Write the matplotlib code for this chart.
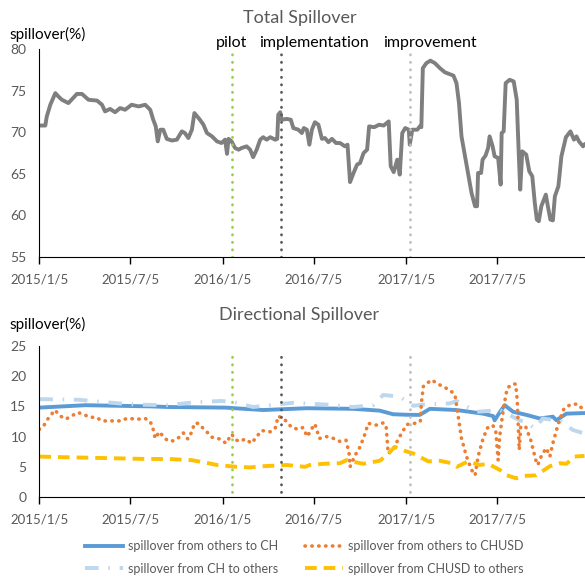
import matplotlib
matplotlib.use("Agg")
import matplotlib.pyplot as plt
import numpy as np
import pandas as pd

# ---- data (days counted from 2015/1/5) ----
start = pd.Timestamp("2015-01-05")

tot_days = [0, 12, 15, 22, 32, 38, 45, 58, 75, 85, 98, 115, 125, 131, 141, 151, 161, 171,
            184, 198, 211, 221, 227, 232, 236, 241, 247, 254, 264, 274, 284, 290, 297, 304,
            309, 320, 327, 334, 344, 354, 363, 370, 374, 377, 383, 390, 397, 403, 413, 420,
            426, 433, 440, 446, 453, 460, 470, 474, 476, 480, 483, 493, 501, 506, 516, 523,
            527, 533, 538, 543, 549, 556, 563, 569, 576, 583, 591, 599, 609, 614, 619, 626,
            633, 639, 646, 653, 657, 667, 677, 686, 696, 700, 706, 713, 718, 723, 729, 736,
            738, 743, 753, 758, 761, 764, 771, 779, 788, 798, 808, 825, 831, 836, 841, 848,
            854, 861, 868, 872, 874, 880, 883, 889, 894, 897, 903, 907, 914, 919, 921, 925,
            929, 937, 945, 951, 955, 958, 962, 970, 976, 982, 987, 991, 995, 1000, 1009,
            1013, 1018, 1023, 1027, 1034, 1040, 1049, 1058, 1065, 1070, 1075, 1083, 1086]
tot_vals = [70.8, 70.8, 71.9, 73.3, 74.7, 74.3, 73.9, 73.5, 74.6, 74.6, 73.9, 73.8, 73.3,
            72.5, 72.8, 72.4, 72.9, 72.7, 73.3, 73.1, 73.3, 72.7, 71.5, 70.7, 68.9, 70.3,
            70.3, 69.2, 69.0, 69.1, 70.1, 69.9, 69.3, 70.3, 72.3, 71.5, 70.9, 69.9, 69.5,
            68.9, 68.7, 69.1, 67.4, 69.2, 68.9, 68.1, 67.9, 68.1, 68.3, 67.9, 67.0, 67.9,
            69.1, 69.4, 69.1, 69.4, 69.1, 69.2, 72.1, 72.4, 71.5, 71.6, 71.5, 70.5, 70.3,
            69.9, 70.5, 70.3, 68.5, 70.3, 71.2, 70.9, 69.2, 69.3, 68.8, 69.2, 68.7, 68.7,
            68.3, 68.5, 64.0, 65.1, 66.1, 66.3, 67.5, 67.9, 70.7, 70.6, 70.9, 70.8, 71.3,
            65.9, 65.2, 66.7, 64.9, 69.9, 70.5, 70.3, 68.5, 70.3, 70.3, 70.7, 70.6, 77.7,
            78.3, 78.6, 78.3, 77.7, 77.2, 76.8, 75.9, 73.5, 69.5, 67.1, 65.1, 62.7, 61.1,
            61.1, 65.1, 65.1, 66.7, 67.2, 68.1, 69.5, 68.3, 67.1, 66.9, 63.7, 69.9, 70.1,
            75.9, 76.3, 76.1, 73.9, 67.5, 63.1, 67.7, 67.3, 65.3, 64.7, 61.5, 59.5, 59.3,
            61.1, 62.5, 61.1, 59.5, 59.4, 62.3, 63.5, 67.1, 69.4, 70.1, 69.1, 69.5, 68.9,
            68.3, 68.5]

to_ch_days = [0, 92, 224, 257, 370, 446, 533, 625, 678, 705, 738, 758, 778, 831, 884, 904,
              907, 917, 927, 944, 970, 997, 1023, 1030, 1050, 1086]
to_ch_vals = [14.8, 15.2, 15.0, 14.9, 14.8, 14.4, 14.7, 14.6, 14.3, 13.7, 13.6, 13.6, 14.6,
              14.4, 13.8, 13.4, 12.7, 14.0, 15.2, 14.1, 13.6, 13.0, 13.3, 12.7, 13.8, 13.9]

to_chusd_days = [0, 9, 15, 31, 42, 53, 64, 77, 90, 101, 113, 125, 145, 163, 174, 198, 211,
                 221, 226, 231, 239, 247, 256, 267, 279, 287, 296, 304, 309, 316, 330, 344,
                 360, 372, 383, 393, 400, 410, 423, 433, 443, 460, 470, 476, 489, 503, 516,
                 525, 534, 541, 549, 558, 572, 586, 599, 611, 617, 619, 629, 639, 649, 655,
                 672, 686, 691, 693, 695, 705, 715, 732, 748, 759, 761, 765, 781, 801, 818,
                 828, 834, 841, 851, 861, 868, 874, 883, 892, 903, 909, 914, 917, 925, 932,
                 942, 949, 952, 956, 959, 969, 979, 989, 993, 1001, 1010, 1017, 1023, 1034,
                 1045, 1058, 1072, 1082, 1086]
to_chusd_vals = [11.2, 11.8, 12.7, 14.4, 13.4, 12.9, 13.4, 14.0, 13.6, 13.2, 13.2, 12.6,
                 12.6, 12.6, 13.0, 12.9, 13.0, 12.5, 11.5, 9.7, 10.8, 10.0, 9.3, 9.3, 9.9,
                 10.6, 9.6, 10.8, 12.2, 12.2, 11.1, 9.9, 9.6, 8.9, 10.4, 9.4, 9.2, 9.6, 8.9,
                 10.0, 11.0, 10.8, 11.4, 13.4, 12.8, 11.5, 11.2, 11.5, 10.0, 11.1, 12.1, 9.7,
                 10.0, 9.7, 9.2, 9.4, 7.3, 5.0, 6.9, 8.3, 10.5, 12.2, 11.9, 12.3, 11.6, 9.4,
                 7.2, 7.8, 9.6, 12.0, 12.2, 12.5, 15.5, 18.3, 19.4, 18.4, 17.7, 16.9, 13.6,
                 9.7, 6.7, 4.5, 3.6, 6.7, 9.4, 11.4, 11.9, 11.1, 6.1, 10.0, 14.9, 18.0, 18.7,
                 18.7, 16.0, 7.8, 11.7, 11.6, 9.4, 6.1, 5.3, 7.0, 8.1, 6.7, 8.9, 12.2, 14.6,
                 15.3, 15.4, 14.6, 14.4]

from_ch_days = [0, 78, 158, 191, 257, 310, 363, 387, 426, 506, 572, 625, 665, 685, 718, 745,
                765, 818, 831, 871, 917, 957, 970, 987, 1003, 1037, 1063, 1086]
from_ch_vals = [16.2, 16.1, 15.5, 15.3, 15.2, 15.7, 15.9, 15.7, 14.9, 15.6, 15.3, 14.9, 15.2,
                16.9, 16.6, 15.1, 15.3, 15.5, 15.9, 14.1, 14.4, 12.7, 12.3, 11.4, 13.0, 12.6,
                11.1, 10.5]

from_chusd_days = [0, 45, 158, 211, 257, 304, 337, 354, 393, 420, 446, 493, 529, 539, 566,
                   599, 612, 645, 678, 692, 708, 722, 745, 775, 798, 821, 832, 854, 877, 894,
                   917, 931, 950, 967, 990, 1017, 1037, 1050, 1066, 1086]
from_chusd_vals = [6.7, 6.6, 6.4, 6.3, 6.3, 6.1, 5.6, 5.3, 5.0, 4.9, 5.1, 5.3, 5.0, 5.3, 5.5,
                   5.6, 6.1, 5.5, 6.0, 6.9, 8.3, 7.8, 7.2, 5.9, 6.0, 5.6, 5.0, 5.9, 5.3, 5.5,
                   4.5, 3.6, 3.1, 3.5, 3.6, 5.1, 5.6, 5.5, 6.7, 6.8]

events = ["pilot", "implementation", "improvement"]
event_dates = ["2016-01-23", "2016-04-30", "2017-01-13"]
event_colors = ["#92D050", "#595959", "#BFBFBF"]

tick_dates = ["2015-01-05", "2015-07-05", "2016-01-05", "2016-07-05", "2017-01-05", "2017-07-05"]
tick_labels = ["2015/1/5", "2015/7/5", "2016/1/5", "2016/7/5", "2017/1/5", "2017/7/5"]


def to_dates(days):
    return start + pd.to_timedelta(days, unit="D")


plt.rcParams["font.family"] = ["Lato", "DejaVu Sans"]
txt_gray = "#595959"

fig = plt.figure(figsize=(5.85, 5.78), dpi=100)
ax1 = fig.add_axes([0.0667, 0.5554, 0.9333, 0.3598])
ax2 = fig.add_axes([0.0667, 0.1401, 0.9333, 0.2613])

x_end = start + pd.Timedelta(days=1087)

for ax in (ax1, ax2):
    for s in ("top", "right"):
        ax.spines[s].set_visible(False)
    ax.spines["left"].set_color("black")
    ax.spines["bottom"].set_color("black")
    ax.set_xlim(start - pd.Timedelta(days=0.5), x_end)
    ax.set_xticks(pd.to_datetime(tick_dates))
    ax.set_xticklabels(tick_labels)
    ax.tick_params(axis="x", direction="out", length=5, width=1, colors="black",
                   labelcolor=txt_gray, labelsize=9.5, pad=7)
    ax.tick_params(axis="y", length=0, labelcolor=txt_gray, labelsize=10, pad=9)

# ---- top panel ----
ax1.plot(to_dates(tot_days), tot_vals, color="#7F7F7F", lw=2.8, solid_joinstyle="round")
ax1.set_ylim(55, 80)
ax1.set_yticks(np.arange(55, 81, 5))
for name, d, c in zip(events, event_dates, event_colors):
    ax1.axvline(pd.Timestamp(d), ymin=0, ymax=0.98, color=c, lw=2.0,
                linestyle=(0, (0.1, 2.6)), dash_capstyle="round")
ax1.text(pd.Timestamp(event_dates[0]), 80.7, events[0], ha="center", va="center", fontsize=11.5)
ax1.text(pd.Timestamp("2016-07-05"), 80.7, events[1], ha="center", va="center", fontsize=11.5)
ax1.text(pd.Timestamp("2017-02-22"), 80.7, events[2], ha="center", va="center", fontsize=11.5)
fig.text(0.512, 0.969, "Total Spillover", ha="center", va="center", fontsize=13, color=txt_gray)
fig.text(0.017, 0.940, "spillover(%)", ha="left", va="center", fontsize=11)

# ---- bottom panel ----
ax2.plot(to_dates(to_ch_days), to_ch_vals, color="#5B9BD5", lw=2.8,
         label="spillover from others to CH")
ax2.plot(to_dates(from_ch_days), from_ch_vals, color="#BDD7EE", lw=2.8,
         linestyle=(0, (3.5, 2.5, 0.4, 2.5)), label="spillover from CH to others")
ax2.plot(to_dates(to_chusd_days), to_chusd_vals, color="#ED7D31", lw=2.6,
         linestyle=(0, (0.1, 1.8)), dash_capstyle="round",
         label="spillover from others to CHUSD")
ax2.plot(to_dates(from_chusd_days), from_chusd_vals, color="#FFC000", lw=2.8,
         linestyle=(0, (3.0, 1.8)), label="spillover from CHUSD to others")
ax2.set_ylim(0, 25)
ax2.set_yticks(np.arange(0, 26, 5))
for d, c in zip(event_dates, event_colors):
    ax2.axvline(pd.Timestamp(d), ymin=0.03, ymax=0.96, color=c, lw=2.0,
                linestyle=(0, (0.1, 2.6)), dash_capstyle="round")
fig.text(0.512, 0.455, "Directional Spillover", ha="center", va="center", fontsize=13,
         color=txt_gray)
fig.text(0.017, 0.439, "spillover(%)", ha="left", va="center", fontsize=11)

handles, labels = ax2.get_legend_handles_labels()
fig.legend(handles, labels, loc="center", bbox_to_anchor=(0.52, 0.036), ncol=2,
           frameon=False, fontsize=9, labelcolor=txt_gray, handlelength=3.0,
           handletextpad=0.4, columnspacing=2.2, labelspacing=0.85)

fig.savefig("out.png", dpi=100)
